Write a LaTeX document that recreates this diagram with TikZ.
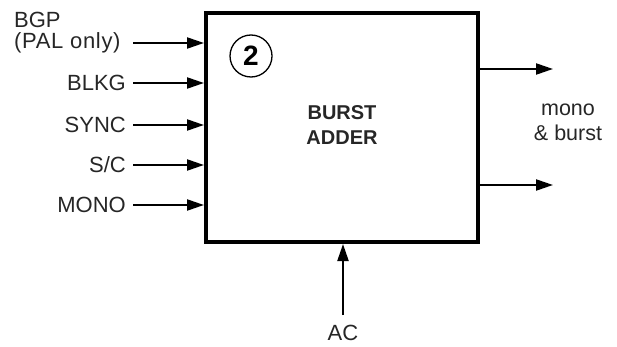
\documentclass[tikz,border=0pt]{standalone}
\usepackage{fontspec}
\setmainfont{Liberation Sans}
\usetikzlibrary{arrows.meta}
\begin{document}
\begin{tikzpicture}[x=1pt,y=-1pt,
  lbl/.style={font=\fontsize{22}{26}\selectfont, text=black!85, inner sep=0pt},
  arr/.style={line width=2.2pt, -{Triangle[length=17pt,width=11pt]}},
  blockbox/.style={draw, line width=4pt, minimum width=272pt, minimum height=229pt, inner sep=0pt}]
\useasboundingbox (0,0) rectangle (617,347);
\node[blockbox] (box) at (342,127.5) {};
\node[circle, draw, line width=1.3pt, minimum size=42pt, inner sep=0pt, font=\fontsize{28}{30}\selectfont\bfseries] (num) at (251,56) {2};
\node[lbl, font=\fontsize{20}{25}\selectfont\bfseries, align=center] (title) at (342,125) {BURST\\ADDER};
% inputs
\node[lbl, anchor=west] (bgp) at (14,20) {BGP};
\node[lbl, anchor=west, font=\fontsize{22}{26}\selectfont\addfontfeatures{LetterSpace=3}] (pal) at (14,43) {(PAL only)};
\node[lbl, anchor=east] (blkg) at (126,83) {BLKG};
\node[lbl, anchor=east] (sync) at (126,125) {SYNC};
\node[lbl, anchor=east] (sc) at (126,165) {S/C};
\node[lbl, anchor=east] (mono) at (126,205) {MONO};
\draw[arr] (pal.east -| blkg.east) ++(7pt,0) -- (pal.east -| box.west);
\foreach \n in {blkg,sync,sc,mono}
  \draw[arr] ([xshift=7pt]\n.east) -- (\n.east -| box.west);
% outputs
\coordinate (o1) at (553,69);
\coordinate (o2) at (553,185);
\draw[arr] (o1 -| box.east) -- (o1);
\draw[arr] (o2 -| box.east) -- (o2);
\node[lbl, align=center, font=\fontsize{21.5}{25}\selectfont] (out) at (568,122) {mono\\\& burst};
% AC
\node[lbl] (ac) at (343,333) {AC};
\draw[arr] ([yshift=10pt]ac.north) -- (ac.north |- box.south);
\end{tikzpicture}
\end{document}
